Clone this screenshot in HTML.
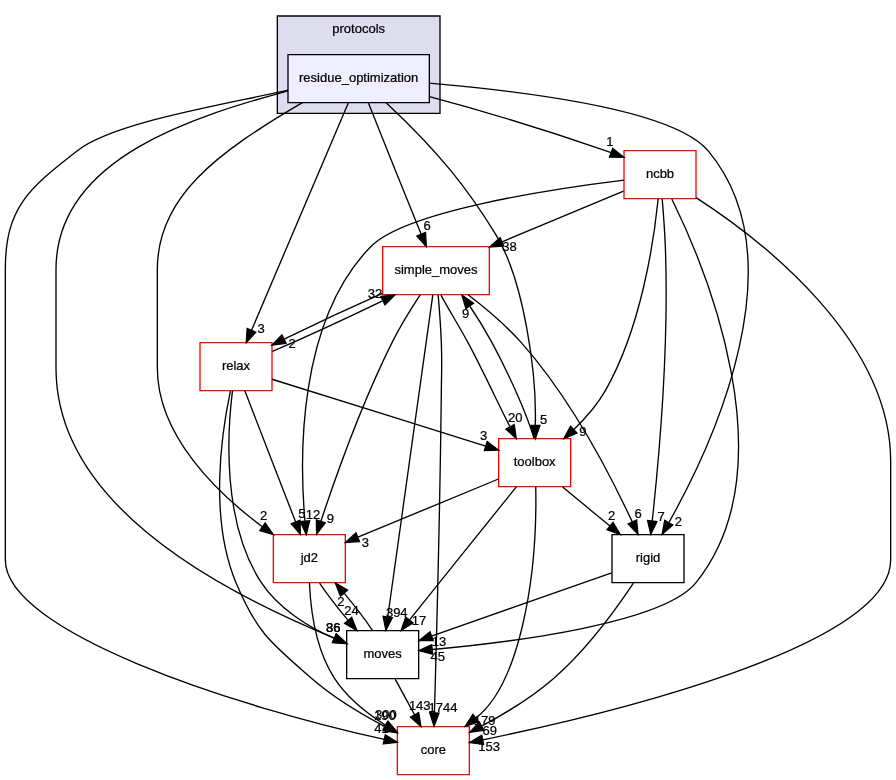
<!DOCTYPE html>
<html lang="en"><head><meta charset="utf-8"><title>src/protocols/residue_optimization</title>
<style>html,body{margin:0;padding:0;background:#fff}svg{display:block;will-change:transform}text{font-family:"Liberation Sans",Arial,Helvetica,sans-serif;font-size:9.75px;stroke:#000;stroke-width:0.18px}</style></head><body>
<svg width="896" height="780" viewBox="0 0 672 585">
<g transform="translate(4 581)">
<polygon fill="#ffffff" stroke="none" points="-4,4 -4,-581 668,-581 668,4 -4,4"/>
<g class="cluster"><polygon fill="#ddddee" stroke="#000000" points="204,-496 204,-569 326,-569 326,-496 204,-496"/><text text-anchor="middle" x="265.00" y="-556.30">protocols</text></g>
<g class="node"><polygon fill="#eeeeff" stroke="black" points="318,-540 212,-540 212,-504 318,-504 318,-540"/><text text-anchor="middle" x="265.00" y="-519.50">residue_optimization</text></g>
<g class="node"><polygon fill="white" stroke="red" points="255,-180 201,-180 201,-144 255,-144 255,-180"/><text text-anchor="middle" x="228.00" y="-159.50">jd2</text></g>
<g class="edge"><path fill="none" stroke="#000000" d="M222.8,-504C157.35,-465.68 114,-432.85 114,-379 114,-379 114,-379 114,-305 114,-254 159.27,-210.88 192.76,-185.97"/><polygon fill="#000000" stroke="#000000" points="194.92,-188.73 200.98,-180.04 190.83,-183.05 194.92,-188.73"/><text text-anchor="middle" x="193.67" y="-190.63">2</text></g>
<g class="node"><polygon fill="white" stroke="red" points="518,-468 464,-468 464,-432 518,-432 518,-468"/><text text-anchor="middle" x="491.00" y="-447.50">ncbb</text></g>
<g class="edge"><path fill="none" stroke="#000000" d="M318,-508.5C350,-500 400,-485.5 450,-468 451.42,-467.54 452.86,-467.05 454.31,-466.54"/><polygon fill="#000000" stroke="#000000" points="453.08,-463.26 463.88,-462.95 455.54,-469.82 453.08,-463.26"/><text text-anchor="middle" x="453.38" y="-471.16">1</text></g>
<g class="node"><polygon fill="none" stroke="black" points="310,-108 256,-108 256,-72 310,-72 310,-108"/><text text-anchor="middle" x="283.00" y="-87.50">moves</text></g>
<g class="edge"><path fill="none" stroke="#000000" d="M212,-512.9C144.58,-494.24 38,-463.61 38,-379 38,-379 38,-379 38,-305 38,-195.73 178.45,-130.5 246.8,-102.45"/><polygon fill="#000000" stroke="#000000" points="245.42,-99.23 256.00,-98.50 248.18,-105.67 245.42,-99.23"/><text text-anchor="middle" x="246.01" y="-107.19">36</text></g>
<g class="node"><polygon fill="white" stroke="red" points="200,-324 146,-324 146,-288 200,-288 200,-324"/><text text-anchor="middle" x="173.00" y="-303.50">relax</text></g>
<g class="edge"><path fill="none" stroke="#000000" d="M257.3,-504C233,-447 209,-390 184.6,-333.2"/><polygon fill="#000000" stroke="#000000" points="181.38,-334.57 180.70,-324.00 187.82,-331.83 181.38,-334.57"/><text text-anchor="middle" x="191.84" y="-331.54">3</text></g>
<g class="node"><polygon fill="white" stroke="red" points="363,-396 283,-396 283,-360 363,-360 363,-396"/><text text-anchor="middle" x="323.00" y="-375.50">simple_moves</text></g>
<g class="edge"><path fill="none" stroke="#000000" d="M272.25,-504C285,-472 299,-437 311.9,-405.3"/><polygon fill="#000000" stroke="#000000" points="308.67,-403.96 315.75,-396.00 315.13,-406.64 308.67,-403.96"/><text text-anchor="middle" x="316.41" y="-408.49">6</text></g>
<g class="node"><polygon fill="white" stroke="red" points="424,-252 370,-252 370,-216 424,-216 424,-252"/><text text-anchor="middle" x="397.00" y="-231.50">toolbox</text></g>
<g class="edge"><path fill="none" stroke="#000000" d="M285.6,-504C324.99,-467.18 346.90,-439.53 367.99,-404.85 389.12,-370.12 398.68,-300.11 397.45,-262"/><polygon fill="#000000" stroke="#000000" points="393.95,-261.98 397.50,-252.00 400.95,-262.02 393.95,-261.98"/><text text-anchor="middle" x="403.77" y="-263.13">5</text></g>
<g class="node"><polygon fill="white" stroke="red" points="348,-36 294,-36 294,0 348,0 348,-36"/><text text-anchor="middle" x="321.00" y="-15.50">core</text></g>
<g class="edge"><path fill="none" stroke="#000000" d="M212,-513.4C161.50,-502.01 81.36,-489.26 54,-468 17.47,-439.61 0,-425.27 0,-379 0,-379 0,-379 0,-161 0,-107.05 171.66,-51.22 284.23,-26.45"/><polygon fill="#000000" stroke="#000000" points="283.48,-23.03 294.00,-24.30 284.98,-29.87 283.48,-23.03"/><text text-anchor="middle" x="282.09" y="-30.91">41</text></g>
<g class="node"><polygon fill="none" stroke="black" points="509,-180 455,-180 455,-144 509,-144 509,-180"/><text text-anchor="middle" x="482.00" y="-159.50">rigid</text></g>
<g class="edge"><path fill="none" stroke="#000000" d="M318,-518.7C388.90,-512.50 500.69,-499.38 527,-468 595.57,-386.21 530.02,-246.79 497.68,-189.14"/><polygon fill="#000000" stroke="#000000" points="500.62,-187.24 492.62,-180.3 494.55,-190.71 500.62,-187.24"/><text text-anchor="middle" x="504.87" y="-186.45">2</text></g>
<g class="edge"><path fill="none" stroke="#000000" d="M235.68,-143.7C241.41,-135.3 249.26,-125.07 256.97,-115.86"/><polygon fill="#000000" stroke="#000000" points="259.78,-117.96 263.67,-108.1 254.48,-113.39 259.78,-117.96"/><text text-anchor="middle" x="259.59" y="-120.04">24</text></g>
<g class="edge"><path fill="none" stroke="#000000" d="M228.07,-143.87C228.91,-124.85 232.63,-93.94 247,-72 256.37,-57.69 271.06,-46 284.88,-37.28"/><polygon fill="#000000" stroke="#000000" points="286.98,-40.1 293.78,-31.98 283.4,-34.09 286.98,-40.1"/><text text-anchor="middle" x="285.34" y="-41.88">300</text></g>
<g class="edge"><path fill="none" stroke="#000000" d="M464,-445.97C411.9,-439.58 300.3,-423.03 274,-396 219.34,-339.81 220.49,-238.57 224.71,-190.19"/><polygon fill="#000000" stroke="#000000" points="228.2,-190.45 225.7,-180.16 221.24,-189.77 228.2,-190.45"/><text text-anchor="middle" x="230.68" y="-191.81">12</text></g>
<g class="edge"><path fill="none" stroke="#000000" d="M499.88,-431.8C524.59,-381.28 587.88,-231.4 518,-144 493.67,-113.57 380.28,-99.36 320.35,-93.88"/><polygon fill="#000000" stroke="#000000" points="320.43,-90.37 310.17,-92.98 319.82,-97.35 320.43,-90.37"/><text text-anchor="middle" x="324.26" y="-85.36">45</text></g>
<g class="edge"><path fill="none" stroke="#000000" d="M463.63,-437.6C439.05,-427.35 402.36,-412.07 372.61,-399.67"/><polygon fill="#000000" stroke="#000000" points="373.8,-396.38 363.23,-395.76 371.11,-402.84 373.8,-396.38"/><text text-anchor="middle" x="378.21" y="-392.64">38</text></g>
<g class="edge"><path fill="none" stroke="#000000" d="M489.63,-431.91C486.56,-401.24 477.11,-335.63 450,-288 443.93,-277.33 435.13,-267.32 426.44,-258.94"/><polygon fill="#000000" stroke="#000000" points="428.64,-256.21 418.91,-252.02 423.9,-261.36 428.64,-256.21"/><text text-anchor="middle" x="433.21" y="-254.05">9</text></g>
<g class="edge"><path fill="none" stroke="#000000" d="M518.03,-432.76C566.69,-401.24 664,-326.73 664,-235 664,-235 664,-235 664,-161 664,-95.36 446.86,-44.28 358.12,-26.14"/><polygon fill="#000000" stroke="#000000" points="358.7,-22.69 348.2,-24.14 357.31,-29.55 358.7,-22.69"/><text text-anchor="middle" x="362.78" y="-18.12">153</text></g>
<g class="edge"><path fill="none" stroke="#000000" d="M492.62,-431.83C493.52,-421.47 494.55,-407.99 495,-396 497.81,-321.54 489.87,-233.81 485.18,-190.31"/><polygon fill="#000000" stroke="#000000" points="488.64,-189.79 484.06,-180.24 481.69,-190.56 488.64,-189.79"/><text text-anchor="middle" x="491.86" y="-190.55">7</text></g>
<g class="edge"><path fill="none" stroke="#000000" d="M275.46,-108.1C269.76,-116.47 261.93,-126.69 254.21,-135.92"/><polygon fill="#000000" stroke="#000000" points="251.38,-133.84 247.51,-143.7 256.69,-138.4 251.38,-133.84"/><text text-anchor="middle" x="251.58" y="-126.76">2</text></g>
<g class="edge"><path fill="none" stroke="#000000" d="M292.39,-71.7C296.76,-63.64 302.06,-53.89 306.9,-44.98"/><polygon fill="#000000" stroke="#000000" points="310.02,-46.56 311.71,-36.1 303.87,-43.22 310.02,-46.56"/><text text-anchor="middle" x="310.80" y="-48.58">143</text></g>
<g class="edge"><path fill="none" stroke="#000000" d="M179.63,-287.87C189.09,-263.46 206.53,-218.43 217.68,-189.64"/><polygon fill="#000000" stroke="#000000" points="220.99,-190.78 221.34,-180.19 214.47,-188.25 220.99,-190.78"/><text text-anchor="middle" x="222.34" y="-192.66">5</text></g>
<g class="edge"><path fill="none" stroke="#000000" d="M170.35,-287.83C166.45,-256.45 162.52,-188.95 192,-144 204.61,-124.77 227.5,-110.6 246.8,-102.2"/><polygon fill="#000000" stroke="#000000" points="245.43,-98.98 256.00,-98.30 248.17,-105.42 245.43,-98.98"/><text text-anchor="middle" x="245.96" y="-106.94">86</text></g>
<g class="edge"><path fill="none" stroke="#000000" d="M200.33,-317.43C223.49,-327.41 256.81,-342.75 282.93,-355.37"/><polygon fill="#000000" stroke="#000000" points="281.68,-358.65 292.2,-359.88 284.74,-352.35 281.68,-358.65"/><text text-anchor="middle" x="277.20" y="-357.13">32</text></g>
<g class="edge"><path fill="none" stroke="#000000" d="M200.02,-296.56C240.05,-284.05 315.2,-260.56 360.22,-246.49"/><polygon fill="#000000" stroke="#000000" points="361.38,-249.8 369.88,-243.47 359.3,-243.12 361.38,-249.8"/><text text-anchor="middle" x="358.80" y="-251.08">3</text></g>
<g class="edge"><path fill="none" stroke="#000000" d="M168.8,-287.7C162.31,-257.26 152.57,-192.72 173,-144 188.78,-106.36 199.16,-98.74 230,-72 246.32,-57.85 266.95,-45.48 284.44,-36.25"/><polygon fill="#000000" stroke="#000000" points="286.49,-39.13 293.79,-31.46 283.3,-32.91 286.49,-39.13"/><text text-anchor="middle" x="284.59" y="-40.80">190</text></g>
<g class="edge"><path fill="none" stroke="#000000" d="M311.14,-359.81C304.44,-349.67 296.19,-336.42 290,-324 267.34,-278.52 247.49,-222.62 236.67,-190.08"/><polygon fill="#000000" stroke="#000000" points="239.93,-188.78 233.48,-180.38 233.28,-190.97 239.93,-188.78"/><text text-anchor="middle" x="243.75" y="-188.81">9</text></g>
<g class="edge"><path fill="none" stroke="#000000" d="M320.62,-359.97C313.94,-312.19 294.98,-176.62 286.81,-118.27"/><polygon fill="#000000" stroke="#000000" points="290.27,-117.73 285.42,-108.31 283.34,-118.69 290.27,-117.73"/><text text-anchor="middle" x="293.58" y="-118.39">394</text></g>
<g class="edge"><path fill="none" stroke="#000000" d="M282.81,-360.94C259.85,-350.77 231.39,-337.54 209.14,-326.73"/><polygon fill="#000000" stroke="#000000" points="210.54,-323.52 200.02,-322.26 207.46,-329.81 210.54,-323.52"/><text text-anchor="middle" x="215.02" y="-320.05">2</text></g>
<g class="edge"><path fill="none" stroke="#000000" d="M326.69,-359.66C332.17,-349.46 340.42,-336.21 347,-324 358.1,-303.4 369.11,-279.25 378.31,-261.31"/><polygon fill="#000000" stroke="#000000" points="381.63,-262.51 383.23,-252.04 375.45,-259.23 381.63,-262.51"/><text text-anchor="middle" x="382.46" y="-264.52">20</text></g>
<g class="edge"><path fill="none" stroke="#000000" d="M324.62,-359.83C325.52,-349.47 326.55,-335.99 327,-324 327.6,-308.01 327.18,-304 327,-288 326.01,-199.63 323.21,-94.96 321.81,-46.34"/><polygon fill="#000000" stroke="#000000" points="325.31,-46.2 321.52,-36.31 318.31,-46.4 325.31,-46.2"/><text text-anchor="middle" x="328.25" y="-47.21">1744</text></g>
<g class="edge"><path fill="none" stroke="#000000" d="M347.05,-359.95C359.77,-350.26 375.15,-337.4 387,-324 424.17,-281.95 454.47,-223.24 470.22,-189.57"/><polygon fill="#000000" stroke="#000000" points="473.46,-190.92 474.46,-180.37 467.1,-187.99 473.46,-190.92"/><text text-anchor="middle" x="474.53" y="-192.87">6</text></g>
<g class="edge"><path fill="none" stroke="#000000" d="M369.85,-221.75C341.27,-209.92 296.11,-191.21 264.45,-178.1"/><polygon fill="#000000" stroke="#000000" points="265.66,-174.81 255.09,-174.22 262.98,-181.28 265.66,-174.81"/><text text-anchor="middle" x="270.07" y="-171.06">3</text></g>
<g class="edge"><path fill="none" stroke="#000000" d="M383.25,-215.87C363.31,-191.03 326.23,-144.85 303.18,-116.14"/><polygon fill="#000000" stroke="#000000" points="305.79,-113.8 296.8,-108.19 300.33,-118.18 305.79,-113.8"/><text text-anchor="middle" x="310.25" y="-112.32">17</text></g>
<g class="edge"><path fill="none" stroke="#000000" d="M396.58,-252.04C391.18,-270.18 378.16,-299.59 365,-324 360.06,-333.16 354.19,-342.9 348.3,-351.5"/><polygon fill="#000000" stroke="#000000" points="345.43,-349.5 342.44,-359.66 351.12,-353.58 345.43,-349.5"/><text text-anchor="middle" x="345.22" y="-342.42">9</text></g>
<g class="edge"><path fill="none" stroke="#000000" d="M397.81,-216C399.23,-144.80 384.86,-66.95 352.80,-42.40"/><polygon fill="#000000" stroke="#000000" points="350.66,-45.17 344.90,-36.30 354.94,-39.63 350.66,-45.17"/><text text-anchor="middle" x="359.53" y="-37.09">179</text></g>
<g class="edge"><path fill="none" stroke="#000000" d="M418.01,-215.7C428.72,-206.88 441.89,-196.03 453.5,-186.47"/><polygon fill="#000000" stroke="#000000" points="455.74,-189.16 461.23,-180.1 451.29,-183.76 455.74,-189.16"/><text text-anchor="middle" x="454.77" y="-191.14">2</text></g>
<g class="edge"><path fill="none" stroke="#000000" d="M454.75,-151.41C419.71,-139.09 358.76,-117.65 319.68,-103.9"/><polygon fill="#000000" stroke="#000000" points="320.84,-100.6 310.24,-100.58 318.51,-107.2 320.84,-100.6"/><text text-anchor="middle" x="325.17" y="-96.61">13</text></g>
<g class="edge"><path fill="none" stroke="#000000" d="M471.03,-143.71C458.28,-124.54 435.78,-93.51 411,-72 394.94,-58.06 374.7,-45.77 357.49,-36.54"/><polygon fill="#000000" stroke="#000000" points="358.77,-33.26 348.29,-31.74 355.53,-39.47 358.77,-33.26"/><text text-anchor="middle" x="363.27" y="-29.91">69</text></g>
</g></svg></body></html>
